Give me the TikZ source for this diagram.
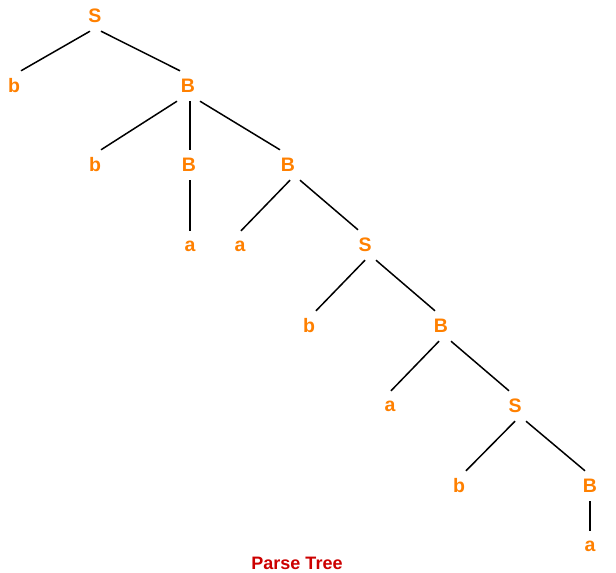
\documentclass[tikz,border=0pt]{standalone}
\usepackage{fontspec}
\setmainfont{Liberation Sans}
\definecolor{symcol}{HTML}{FF8000}
\definecolor{capcol}{HTML}{CC0000}
\tikzset{
    sym/.style={text=symcol, font=\fontsize{19.5}{19.5}\selectfont\bfseries, inner sep=0pt, minimum height=30pt},
    branch/.style={line width=1.5pt, black}
}
\begin{document}
\begin{tikzpicture}[x=1pt,y=-1pt]
        \useasboundingbox (0,0) rectangle (616,573);

        %level 0
        \node[sym] (s0) at (95,16)  {S};

        %level 1
        \node[sym] (b1) at (14,86)  {b};
        \node[sym] (B1) at (188,86) {B};

        %level 2
        \node[sym] (b2) at (95,165)  {b};
        \node[sym] (B2) at (189,165) {B};
        \node[sym] (B3) at (288,165) {B};

        %level 3
        \node[sym] (a1) at (190,246) {a};
        \node[sym] (a2) at (240,246) {a};
        \node[sym] (s1) at (365,245) {S};

        %level 4
        \node[sym] (b3) at (309,326) {b};
        \node[sym] (B4) at (441,326) {B};

        %level 5
        \node[sym] (a3) at (390,406) {a};
        \node[sym] (s2) at (515,406) {S};

        %level 6
        \node[sym] (b4) at (459,486) {b};
        \node[sym] (B5) at (590,486) {B};

        %level 7
        \node[sym] (a4) at (590,546) {a};

        %branches
        \draw[branch] ([xshift=-5pt]s0.south)  -- ([xshift=7pt]b1.north);
        \draw[branch] ([xshift=6pt]s0.south)   -- ([xshift=-8pt]B1.north);
        \draw[branch] ([xshift=-11pt]B1.south) -- ([xshift=6pt]b2.north);
        \draw[branch] ([xshift=2pt]B1.south)   -- ([xshift=1pt]B2.north);
        \draw[branch] ([xshift=12pt]B1.south)  -- ([xshift=-8pt]B3.north);
        \draw[branch] ([xshift=1pt]B2.south)   -- (a1.north);
        \draw[branch] ([xshift=2pt]B3.south)   -- ([xshift=1pt]a2.north);
        \draw[branch] ([xshift=12pt]B3.south)  -- ([xshift=-7pt]s1.north);
        \draw[branch] (s1.south)               -- ([xshift=7pt]b3.north);
        \draw[branch] ([xshift=11pt]s1.south)  -- ([xshift=-6pt]B4.north);
        \draw[branch] ([xshift=-2pt]B4.south)  -- ([xshift=1pt]a3.north);
        \draw[branch] ([xshift=10pt]B4.south)  -- ([xshift=-6pt]s2.north);
        \draw[branch] (s2.south)               -- ([xshift=7pt]b4.north);
        \draw[branch] ([xshift=11pt]s2.south)  -- ([xshift=-5pt]B5.north);
        \draw[branch] (B5.south)               -- (a4.north);

        %caption
        \node[text=capcol, font=\fontsize{18}{18}\selectfont\bfseries] (cap) at (297,563) {Parse Tree};

\end{tikzpicture}
\end{document}
